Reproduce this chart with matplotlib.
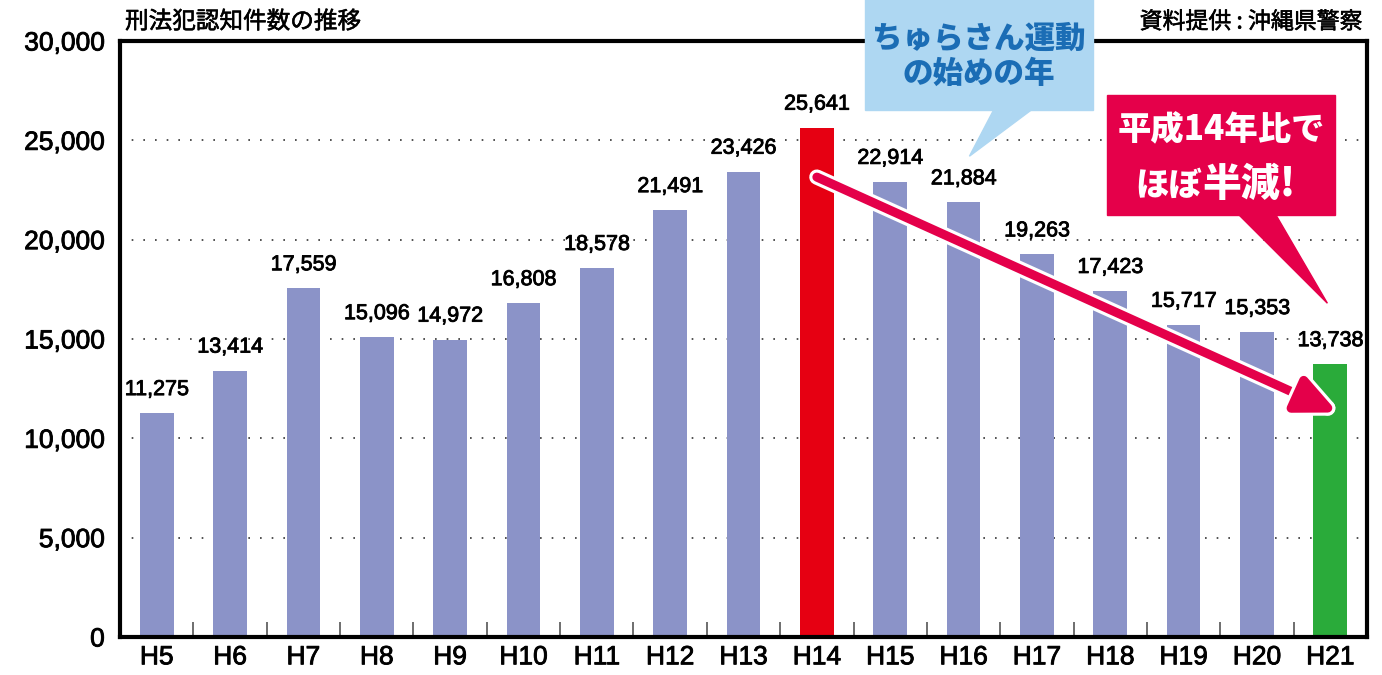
import matplotlib
matplotlib.use('Agg')
import matplotlib.pyplot as plt
import matplotlib.patheffects as pe
from matplotlib.patches import Polygon, Rectangle
import numpy as np

plt.rcParams['font.family'] = ['Noto Sans CJK JP', 'DejaVu Sans']

years = ['H5', 'H6', 'H7', 'H8', 'H9', 'H10', 'H11', 'H12', 'H13',
         'H14', 'H15', 'H16', 'H17', 'H18', 'H19', 'H20', 'H21']
cases = [11275, 13414, 17559, 15096, 14972, 16808, 18578, 21491, 23426,
         25641, 22914, 21884, 19263, 17423, 15717, 15353, 13738]
highlight = {'H14': '#e60012', 'H21': '#2aab3a'}
base_color = '#8b93c8'

title = '刑法犯認知件数の推移'
source = '資料提供 : 沖縄県警察'
note_blue = 'ちゅらさん運動\nの始めの年'
note_red1 = '平成14年比で'
note_red2a = 'ほぼ'
note_red2b = '半減!'

# slightly heavier than regular, like the print font
heavy = [pe.Stroke(linewidth=0.6, foreground='black'), pe.Normal()]

fig = plt.figure(figsize=(13.82, 6.75), dpi=100)
ax = fig.add_axes([120 / 1382, 38 / 675, 1247 / 1382, 596 / 675])

x = np.arange(len(years))
colors = [highlight.get(y, base_color) for y in years]
ax.bar(x, cases, width=0.46, color=colors, zorder=2)

for xi, v in zip(x, cases):
    ax.text(xi, v + 650, f'{v:,}', ha='center', va='bottom',
            fontsize=15.5, family='Liberation Sans', path_effects=heavy, zorder=3)

ax.set_xlim(-0.5, len(years) - 0.5)
ax.set_ylim(0, 30000)
ax.set_yticks(np.arange(0, 30001, 5000))
ax.set_yticklabels([f'{t:,}' for t in range(0, 30001, 5000)],
                   fontsize=19, family='Liberation Sans')
ax.tick_params(axis='y', length=0, pad=11)
ax.set_xticks(x)
ax.set_xticklabels(years, fontsize=19, family='Liberation Sans')
ax.tick_params(axis='x', length=0, pad=6)
for lbl in ax.get_xticklabels() + ax.get_yticklabels():
    lbl.set_path_effects(heavy)
ax.set_xticks(x[:-1] + 0.5, minor=True)
ax.tick_params(axis='x', which='minor', direction='in', length=11,
               width=1.2, color='#555555')

for yv in range(5000, 30000, 5000):
    ax.axhline(yv, color='#333333', lw=1.2, ls=(0, (1, 6)), zorder=1)

for s in ax.spines.values():
    s.set_linewidth(3)
    s.set_zorder(4)

fig.text(125 / 1382, 1 - 22 / 675, title, fontsize=17, va='center', ha='left',
         path_effects=[pe.Stroke(linewidth=0.4, foreground='black'), pe.Normal()])
fig.text(1362 / 1382, 1 - 22 / 675, source, fontsize=16.5, va='center', ha='right',
         path_effects=[pe.Stroke(linewidth=0.4, foreground='black'), pe.Normal()])

# trend arrow H14 -> H21
ax.annotate('', xy=(16.1, 11300), xytext=(9.0, 23150),
            arrowprops=dict(arrowstyle='-|>,head_length=2.4,head_width=1.1',
                            color='#e4004a', lw=6.5, shrinkA=0, shrinkB=0,
                            path_effects=[pe.Stroke(linewidth=11, foreground='white'),
                                          pe.Normal()]),
            zorder=5)

# blue callout
blue_bg = '#aed7f2'
ax.add_patch(Rectangle((9.66, 26530), 3.11, 5600, color=blue_bg,
                       clip_on=False, zorder=6))
ax.add_patch(Polygon([(11.42, 26600), (11.95, 26600), (11.08, 24200)],
                     closed=True, color=blue_bg, clip_on=False, zorder=6))
ax.text(11.21, 29250, note_blue, ha='center', va='center', fontsize=22,
        fontweight='black', color='#1b6db5', linespacing=1.15, zorder=7)

# red callout
red_bg = '#e5004a'
ax.add_patch(Rectangle((12.95, 21240), 3.12, 6040, color=red_bg,
                       clip_on=False, zorder=6))
ax.add_patch(Polygon([(14.74, 21300), (15.25, 21300), (15.96, 16800)],
                     closed=True, color=red_bg, clip_on=False, zorder=6))
ax.text(14.51, 25550, note_red1, ha='center', va='center', fontsize=24,
        fontweight='black', color='white', zorder=7)
ax.text(14.25, 22750, note_red2a, ha='right', va='center', fontsize=24,
        fontweight='black', color='white', zorder=7)
ax.text(14.25, 22800, note_red2b, ha='left', va='center', fontsize=28,
        fontweight='black', color='white', zorder=7)

fig.savefig('out.png', dpi=100)
